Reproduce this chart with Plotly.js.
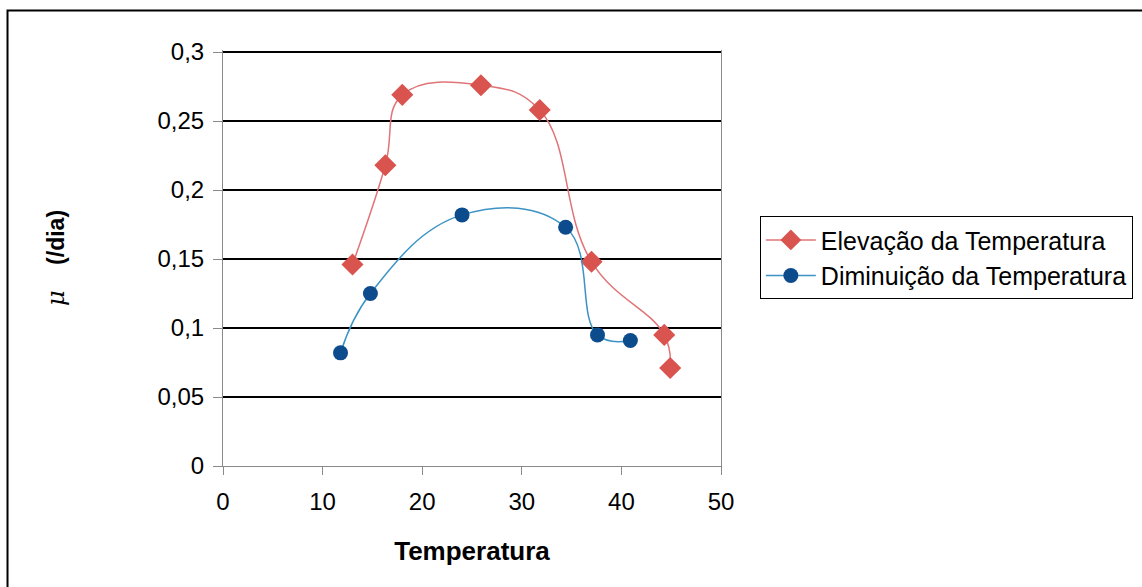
<!DOCTYPE html>
<html>
<head>
<meta charset="utf-8">
<script src="https://cdn.plot.ly/plotly-3.0.1.min.js"></script>
<style>html,body{margin:0;padding:0;background:#fff;}#chart{width:1142px;height:587px;}</style>
</head>
<body>
<div id="chart"></div>
<script>
// Data
const seriesNames = ["Elevação da Temperatura", "Diminuição da Temperatura"];
const elevTemp = [13.0, 16.3, 18.0, 25.9, 31.8, 37.0, 44.3, 44.9];
const elevMu   = [0.146, 0.218, 0.269, 0.276, 0.258, 0.148, 0.095, 0.071];
const dimTemp  = [11.8, 14.8, 24.0, 34.4, 37.6, 40.9];
const dimMu    = [0.082, 0.125, 0.182, 0.173, 0.095, 0.091];
const xTicks = [0, 10, 20, 30, 40, 50];
const yTicks = [0, 0.05, 0.1, 0.15, 0.2, 0.25, 0.3];
const yTickText = ["0", "0,05", "0,1", "0,15", "0,2", "0,25", "0,3"];

const font = "Liberation Sans, Arial, sans-serif";

const traces = [
  {
    x: elevTemp, y: elevMu, name: seriesNames[0], type: "scatter", mode: "lines+markers",
    line: {color: "#E07478", width: 1.5, shape: "spline", smoothing: 1.2},
    marker: {symbol: "diamond", size: 17, color: "#D9534F"}
  },
  {
    x: dimTemp, y: dimMu, name: seriesNames[1], type: "scatter", mode: "lines+markers",
    line: {color: "#3C93C4", width: 1.5, shape: "spline", smoothing: 1.2},
    marker: {symbol: "circle", size: 15, color: "#0D4C8C"}
  }
];

const layout = {
  width: 1142, height: 587,
  margin: {l: 223, r: 421, t: 50, b: 121, autoexpand: false},
  paper_bgcolor: "#ffffff", plot_bgcolor: "#ffffff",
  font: {family: font, color: "#000"},
  showlegend: true,
  xaxis: {
    range: [0, 50], tickvals: xTicks, ticktext: xTicks.map(String),
    showgrid: false, zeroline: false,
    showline: true, linecolor: "#8a8a8a", linewidth: 1, mirror: false,
    ticks: "outside", ticklen: 8, tickcolor: "#8a8a8a",
    ticklabelstandoff: 6,
    tickfont: {size: 24, family: font, color: "#000"},
    title: {text: "<b>Temperatura</b>", font: {size: 26, family: font, color: "#000"}, standoff: 28},
    fixedrange: true
  },
  yaxis: {
    range: [0, 0.3015], tickvals: yTicks, ticktext: yTickText,
    showgrid: true, gridcolor: "#000", gridwidth: 2,
    zeroline: true, zerolinecolor: "#8a8a8a", zerolinewidth: 1,
    showline: true, linecolor: "#8a8a8a", linewidth: 1, mirror: true,
    ticks: "outside", ticklen: 9, tickcolor: "#8a8a8a",
    ticklabelstandoff: 4,
    tickfont: {size: 24, family: font, color: "#000"},
    title: {text: "<span style=\"font-family:DejaVu Serif;font-size:24px\"><i>μ</i></span>    <b>(/dia)</b>", font: {size: 23, family: font, color: "#000"}, standoff: 86},
    fixedrange: true
  },
  legend: {
    x: 1.078, y: 0.6005, xanchor: "left", yanchor: "top",
    bgcolor: "#fff", bordercolor: "#000", borderwidth: 1,
    font: {size: 25, family: font, color: "#000"},
    itemwidth: 50, tracegroupgap: 0
  },
  shapes: [
    {type: "rect", xref: "paper", yref: "paper", x0: -0.4327, y0: 1.095, x1: 1.9, y1: -0.35,
     line: {color: "#000", width: 2}, fillcolor: "rgba(0,0,0,0)", layer: "below"}
  ]
};

Plotly.newPlot("chart", traces, layout, {displayModeBar: false, staticPlot: true});
</script>
</body>
</html>
